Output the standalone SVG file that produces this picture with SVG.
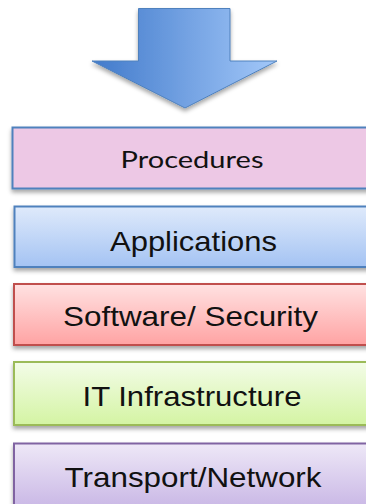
<svg xmlns="http://www.w3.org/2000/svg" width="366" height="504" viewBox="0 0 366 504">
  <defs>
    <linearGradient id="gArrow" x1="0" y1="0" x2="1" y2="0">
      <stop offset="0" stop-color="#417ACB"/>
      <stop offset="1" stop-color="#A3C8F9"/>
    </linearGradient>
    <linearGradient id="gApp" x1="0" y1="0" x2="0" y2="1">
      <stop offset="0" stop-color="#DFEAFB"/>
      <stop offset="1" stop-color="#A4C3F3"/>
    </linearGradient>
    <linearGradient id="gSoft" x1="0" y1="0" x2="0" y2="1">
      <stop offset="0" stop-color="#FFE2E2"/>
      <stop offset="1" stop-color="#FFA3A3"/>
    </linearGradient>
    <linearGradient id="gIT" x1="0" y1="0" x2="0" y2="1">
      <stop offset="0" stop-color="#F3FCE8"/>
      <stop offset="1" stop-color="#D4F4A3"/>
    </linearGradient>
    <linearGradient id="gNet" x1="0" y1="0" x2="0" y2="1">
      <stop offset="0" stop-color="#EEE8F7"/>
      <stop offset="1" stop-color="#C6B3E4"/>
    </linearGradient>
    <filter id="shadow" x="-10%" y="-20%" width="120%" height="150%">
      <feDropShadow dx="0" dy="3" stdDeviation="2" flood-color="#000" flood-opacity="0.35"/>
    </filter>
  </defs>
  <style>
    .box { stroke-width: 2; filter: url(#shadow); }
    .lbl { font-family: "Liberation Sans", Arial, sans-serif; font-size: 28px; fill: #111; text-anchor: middle; }
    .lbl2 { font-family: Lato, "Open Sans", "Liberation Sans", sans-serif; font-size: 24px; fill: #111; text-anchor: middle; }
  </style>
  <rect width="366" height="504" fill="#FFFFFF"/>

  <g id="arrow">
    <path d="M138.5,8.5 H230 V61 H277 L185,108 L92,61 H138.5 Z" fill="url(#gArrow)" stroke="#4F81BD" stroke-width="1" filter="url(#shadow)"/>
  </g>

  <g id="connectors"></g>

  <g id="procedures">
    <rect class="box" x="12.5" y="127.5" width="362" height="61" fill="#EDC8E5" stroke="#4F81BD"/>
    <text class="lbl2" x="192" y="168" textLength="143" lengthAdjust="spacingAndGlyphs">Procedures</text>
  </g>

  <g id="applications">
    <rect class="box" x="14.5" y="206.5" width="362" height="60.5" fill="url(#gApp)" stroke="#4F81BD"/>
    <text class="lbl" x="193.5" y="250.5" textLength="167" lengthAdjust="spacingAndGlyphs">Applications</text>
  </g>

  <g id="software">
    <rect class="box" x="14" y="284" width="362" height="61" fill="url(#gSoft)" stroke="#C0504D"/>
    <text class="lbl" x="190.5" y="325.5" textLength="255" lengthAdjust="spacingAndGlyphs">Software/ Security</text>
  </g>

  <g id="it">
    <rect class="box" x="14" y="362" width="362" height="63" fill="url(#gIT)" stroke="#9BBB59"/>
    <text class="lbl" x="192" y="405.5" textLength="219" lengthAdjust="spacingAndGlyphs">IT Infrastructure</text>
  </g>

  <g id="transport">
    <rect class="box" x="14" y="443.5" width="362" height="70" fill="url(#gNet)" stroke="#8064A2"/>
    <text class="lbl" x="193" y="486.5" textLength="257" lengthAdjust="spacingAndGlyphs">Transport/Network</text>
  </g>
</svg>
